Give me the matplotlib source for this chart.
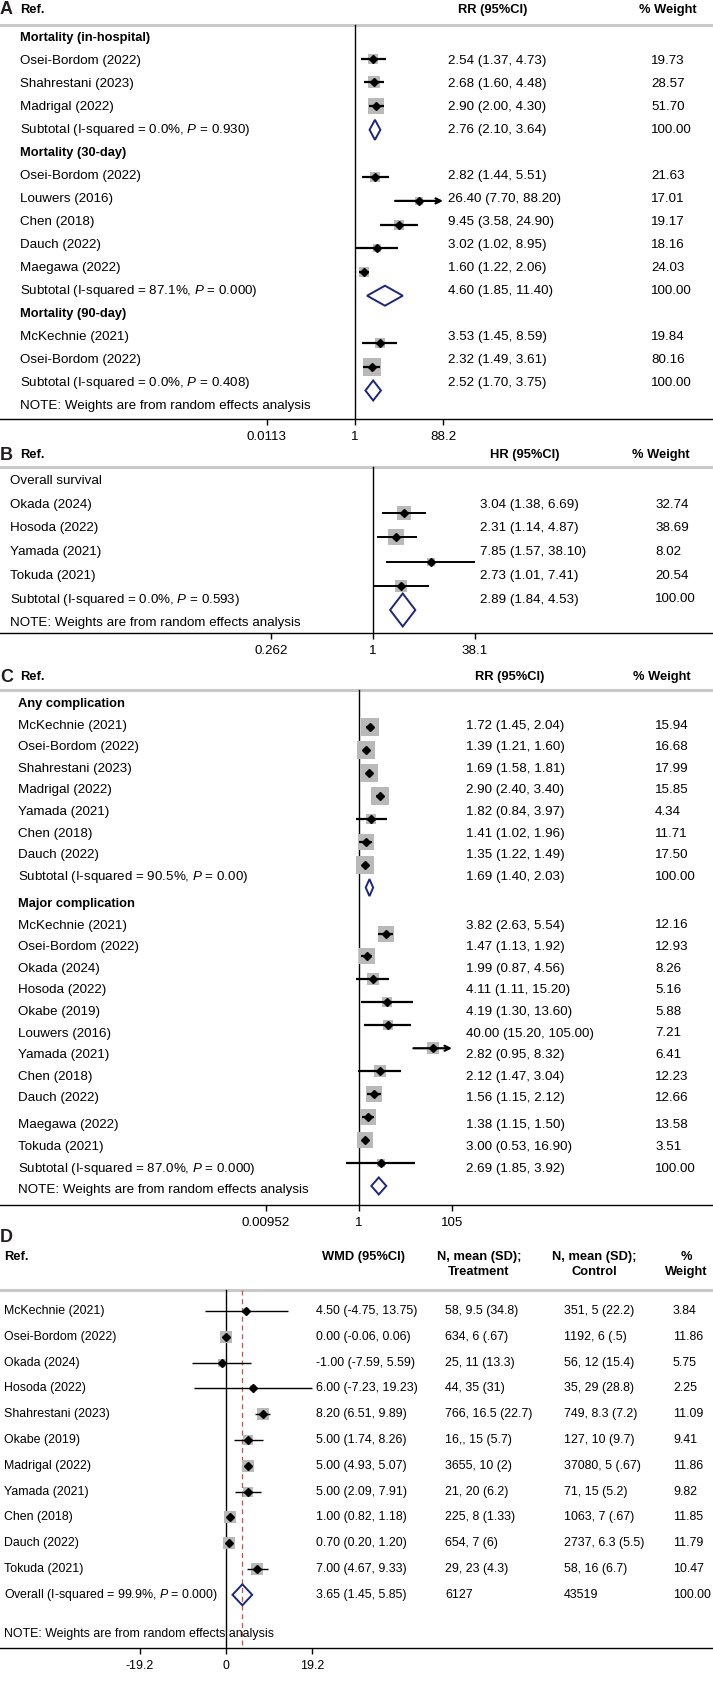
import numpy as np
import matplotlib
matplotlib.use("Agg")
import matplotlib.pyplot as plt
import matplotlib.transforms as mtransforms
from matplotlib.patches import Polygon
from matplotlib.ticker import NullLocator

plt.rcParams["font.family"] = ["Liberation Sans", "DejaVu Sans"]
plt.rcParams["mathtext.fontset"] = "custom"
plt.rcParams["mathtext.rm"] = "Liberation Sans"
plt.rcParams["mathtext.it"] = "Liberation Sans:italic"

nan = np.nan

# ── Panel A: mortality (RR) ────────────────────────────────────────────────
a_labels = ["Mortality (in-hospital)", "Osei-Bordom (2022)", "Shahrestani (2023)", "Madrigal (2022)",
            "Subtotal (I-squared = 0.0%, $P$ = 0.930)", "Mortality (30-day)", "Osei-Bordom (2022)",
            "Louwers (2016)", "Chen (2018)", "Dauch (2022)", "Maegawa (2022)",
            "Subtotal (I-squared = 87.1%, $P$ = 0.000)", "Mortality (90-day)", "McKechnie (2021)",
            "Osei-Bordom (2022)", "Subtotal (I-squared = 0.0%, $P$ = 0.408)",
            "NOTE: Weights are from random effects analysis"]
a_kinds = ["head", "study", "study", "study", "sub", "head", "study", "study", "study", "study", "study",
           "sub", "head", "study", "study", "sub", "note"]
a_est = [nan, 2.54, 2.68, 2.90, 2.76, nan, 2.82, 26.40, 9.45, 3.02, 1.60, 4.60, nan, 3.53, 2.32, 2.52, nan]
a_lo = [nan, 1.37, 1.60, 2.00, 2.10, nan, 1.44, 7.70, 3.58, 1.02, 1.22, 1.85, nan, 1.45, 1.49, 1.70, nan]
a_hi = [nan, 4.73, 4.48, 4.30, 3.64, nan, 5.51, 88.20, 24.90, 8.95, 2.06, 11.40, nan, 8.59, 3.61, 3.75, nan]
a_wt = [nan, 19.73, 28.57, 51.70, 100.00, nan, 21.63, 17.01, 19.17, 18.16, 24.03, 100.00, nan, 19.84, 80.16,
        100.00, nan]
a_ticks = [1 / 88.2, 1, 88.2]
a_tick_labels = ["0.0113", "1", "88.2"]
a_arrows = [7]

# ── Panel B: overall survival (HR) ─────────────────────────────────────────
b_labels = ["Overall survival", "Okada (2024)", "Hosoda (2022)", "Yamada (2021)", "Tokuda (2021)",
            "Subtotal (I-squared = 0.0%, $P$ = 0.593)", "NOTE: Weights are from random effects analysis"]
b_kinds = ["plain", "study", "study", "study", "study", "sub", "note"]
b_est = [nan, 3.04, 2.31, 7.85, 2.73, 2.89, nan]
b_lo = [nan, 1.38, 1.14, 1.57, 1.01, 1.84, nan]
b_hi = [nan, 6.69, 4.87, 38.10, 7.41, 4.53, nan]
b_wt = [nan, 32.74, 38.69, 8.02, 20.54, 100.00, nan]
b_ticks = [1 / 38.1, 1, 38.1]
b_tick_labels = ["0.262", "1", "38.1"]

# ── Panel C: complications (RR) ────────────────────────────────────────────
c_labels = ["Any complication", "McKechnie (2021)", "Osei-Bordom (2022)", "Shahrestani (2023)",
            "Madrigal (2022)", "Yamada (2021)", "Chen (2018)", "Dauch (2022)",
            "Subtotal (I-squared = 90.5%, $P$ = 0.00)", "Major complication", "McKechnie (2021)",
            "Osei-Bordom (2022)", "Okada (2024)", "Hosoda (2022)", "Okabe (2019)", "Louwers (2016)",
            "Yamada (2021)", "Chen (2018)", "Dauch (2022)", "Maegawa (2022)", "Tokuda (2021)",
            "Subtotal (I-squared = 87.0%, $P$ = 0.000)", "NOTE: Weights are from random effects analysis"]
c_kinds = ["head"] + ["study"] * 7 + ["sub", "head"] + ["study"] * 11 + ["sub", "note"]
c_est = [nan, 1.72, 1.39, 1.69, 2.90, 1.82, 1.41, 1.35, 1.69, nan, 3.82, 1.47, 1.99, 4.11, 4.19, 40.00,
         2.82, 2.12, 1.56, 1.38, 3.00, 2.69, nan]
c_lo = [nan, 1.45, 1.21, 1.58, 2.40, 0.84, 1.02, 1.22, 1.40, nan, 2.63, 1.13, 0.87, 1.11, 1.30, 15.20,
        0.95, 1.47, 1.15, 1.15, 0.53, 1.85, nan]
c_hi = [nan, 2.04, 1.60, 1.81, 3.40, 3.97, 1.96, 1.49, 2.03, nan, 5.54, 1.92, 4.56, 15.20, 13.60, 105.00,
        8.32, 3.04, 2.12, 1.50, 16.90, 3.92, nan]
c_wt = [nan, 15.94, 16.68, 17.99, 15.85, 4.34, 11.71, 17.50, 100.00, nan, 12.16, 12.93, 8.26, 5.16, 5.88,
        7.21, 6.41, 12.23, 12.66, 13.58, 3.51, 100.00, nan]
c_ticks = [1 / 105, 1, 105]
c_tick_labels = ["0.00952", "1", "105"]
c_arrows = [15]

# ── Panel D: WMD ───────────────────────────────────────────────────────────
d_labels = ["McKechnie (2021)", "Osei-Bordom (2022)", "Okada (2024)", "Hosoda (2022)", "Shahrestani (2023)",
            "Okabe (2019)", "Madrigal (2022)", "Yamada (2021)", "Chen (2018)", "Dauch (2022)", "Tokuda (2021)",
            "Overall (I-squared = 99.9%, $P$ = 0.000)", "NOTE: Weights are from random effects analysis"]
d_kinds = ["study"] * 11 + ["sub", "note"]
d_est = [4.50, 0.00, -1.00, 6.00, 8.20, 5.00, 5.00, 5.00, 1.00, 0.70, 7.00, 3.65, nan]
d_lo = [-4.75, -0.06, -7.59, -7.23, 6.51, 1.74, 4.93, 2.09, 0.82, 0.20, 4.67, 1.45, nan]
d_hi = [13.75, 0.06, 5.59, 19.23, 9.89, 8.26, 5.07, 7.91, 1.18, 1.20, 9.33, 5.85, nan]
d_wt = [3.84, 11.86, 5.75, 2.25, 11.09, 9.41, 11.86, 9.82, 11.85, 11.79, 10.47, 100.00, nan]
d_treat = ["58, 9.5 (34.8)", "634, 6 (.67)", "25, 11 (13.3)", "44, 35 (31)", "766, 16.5 (22.7)",
           "16,, 15 (5.7)", "3655, 10 (2)", "21, 20 (6.2)", "225, 8 (1.33)", "654, 7 (6)", "29, 23 (4.3)",
           "6127", ""]
d_ctrl = ["351, 5 (22.2)", "1192, 6 (.5)", "56, 12 (15.4)", "35, 29 (28.8)", "749, 8.3 (7.2)",
          "127, 10 (9.7)", "37080, 5 (.67)", "71, 15 (5.2)", "1063, 7 (.67)", "2737, 6.3 (5.5)",
          "58, 16 (6.7)", "43519", ""]
d_ticks = [-19.2, 0, 19.2]
d_tick_labels = ["-19.2", "0", "19.2"]

# ── layout (pixels) ────────────────────────────────────────────────────────
W, H = 713, 1684
FS = 9.6
FS_BOLD = 9.3
GRAY_SQ = "#b9b9b9"
NAVY = "#1c2580"
LINE_GRAY = "#c9c9c9"

fig = plt.figure(figsize=(W / 100, H / 100), dpi=100)
XPIX = mtransforms.Affine2D().scale(1 / W, 1 / H) + fig.transFigure


def make_axes(top_px, axis_px, fs=FS):
    ax = fig.add_axes([0, 1 - axis_px / H, 1, (axis_px - top_px) / H])
    ax.set_ylim(axis_px, top_px)
    ax.patch.set_alpha(0)
    for s in ("top", "left", "right"):
        ax.spines[s].set_visible(False)
    ax.spines["bottom"].set_linewidth(1)
    ax.yaxis.set_visible(False)
    ax.tick_params(axis="x", length=4.5, width=1, pad=4, labelsize=fs)
    tr = mtransforms.blended_transform_factory(XPIX, ax.transData)
    return ax, tr


def set_log_x(ax, null_px, hi_px, ticks, labels):
    ppd = (hi_px - null_px) / np.log10(ticks[-1])
    ax.set_xscale("log")
    ax.set_xlim(10 ** (-null_px / ppd), 10 ** ((W - null_px) / ppd))
    ax.set_xticks(ticks)
    ax.set_xticklabels(labels)
    ax.xaxis.set_minor_locator(NullLocator())


def txt(ax, tr, x, y, s, **kw):
    kw.setdefault("fontsize", FS_BOLD if kw.get("fontweight") == "bold" else FS)
    kw.setdefault("va", "center")
    ax.text(x, y, s, transform=tr, **kw)


def draw_forest(ax, tr, ty, my, labels, kinds, est, lo, hi, wt, name_x, ci_x, wt_x,
                sq_k, dia_h, lw, arrows=(), extra=(), fs=FS):
    for i, lab in enumerate(labels):
        k = kinds[i]
        bold = k == "head"
        txt(ax, tr, name_x, ty[i], lab, fontweight="bold" if bold else "normal",
            fontsize=FS_BOLD if bold else fs)
        if k in ("study", "sub"):
            txt(ax, tr, ci_x, ty[i], f"{est[i]:.2f} ({lo[i]:.2f}, {hi[i]:.2f})", fontsize=fs)
            txt(ax, tr, wt_x, ty[i], f"{wt[i]:.2f}", fontsize=fs)
            for x, col in extra:
                txt(ax, tr, x, ty[i], col[i], fontsize=fs)
        y = my[i]
        if k == "study":
            side = sq_k * np.sqrt(wt[i]) * 0.72
            ax.scatter([est[i]], [y], marker="s", s=side ** 2, color=GRAY_SQ, linewidths=0, zorder=2)
            if i in arrows:
                ax.annotate("", xy=(hi[i], y), xytext=(lo[i], y),
                            arrowprops=dict(arrowstyle="->", lw=lw, color="k", shrinkA=0, shrinkB=0,
                                            mutation_scale=9))
            else:
                ax.plot([lo[i], hi[i]], [y, y], color="k", lw=lw, solid_capstyle="butt", zorder=3)
            ax.plot([est[i]], [y], marker="D", ms=3.6, color="k", zorder=4)
        elif k == "sub":
            ax.add_patch(Polygon([(lo[i], y), (est[i], y - dia_h / 2), (hi[i], y), (est[i], y + dia_h / 2)],
                                 closed=True, fill=False, ec=NAVY, lw=1.4, zorder=4))


def header(ax, tr, y, letter, col_title, col_x, wt_x):
    txt(ax, tr, 0, y, letter, fontsize=13, fontweight="bold", color="#231f20")
    txt(ax, tr, 20, y, "Ref.", fontweight="bold")
    txt(ax, tr, col_x, y, col_title, fontweight="bold", ha="center")
    txt(ax, tr, wt_x, y, "% Weight", fontweight="bold", ha="center")


# ── A ──
ax, tr = make_axes(0, 419)
set_log_x(ax, 355, 443, a_ticks, a_tick_labels)
header(ax, tr, 10, "A", "RR (95%CI)", 493, 668)
ax.axhline(25, color=LINE_GRAY, lw=2.2, zorder=1)
ax.plot([1, 1], [25, 419], color="k", lw=1, zorder=1)
idx = np.arange(len(a_labels))
draw_forest(ax, tr, 38 + 23.0 * idx, 35 + 23.7 * idx, a_labels, a_kinds, a_est, a_lo, a_hi, a_wt,
            20, 448, 651, sq_k=2.1, dia_h=20, lw=1.6, arrows=a_arrows)

# ── B ──
ax, tr = make_axes(443, 633)
set_log_x(ax, 373, 475, b_ticks, b_tick_labels)
header(ax, tr, 455, "B", "HR (95%CI)", 525, 661)
ax.axhline(467, color=LINE_GRAY, lw=2.2, zorder=1)
ax.plot([1, 1], [467, 633], color="k", lw=1, zorder=1)
idx = np.arange(len(b_labels))
draw_forest(ax, tr, 481 + 23.7 * idx, 488.75 + 24.25 * idx, b_labels, b_kinds, b_est, b_lo, b_hi, b_wt,
            10, 480, 655, sq_k=2.6, dia_h=33, lw=1.4)

# ── C ──
ax, tr = make_axes(665, 1205)
set_log_x(ax, 359, 452, c_ticks, c_tick_labels)
header(ax, tr, 677, "C", "RR (95%CI)", 510, 662)
ax.axhline(690, color=LINE_GRAY, lw=2.2, zorder=1)
ax.plot([1, 1], [690, 1205], color="k", lw=1, zorder=1)
idx = np.arange(len(c_labels))
c_ty = 704 + 21.6 * idx + 5.5 * (idx >= 9) + 5.5 * (idx >= 19)
draw_forest(ax, tr, c_ty, 704 + 22.95 * idx, c_labels, c_kinds, c_est, c_lo, c_hi, c_wt,
            18, 466, 655, sq_k=4.4, dia_h=17, lw=1.6, arrows=c_arrows)

# ── D (slightly smaller body text) ──
FS_D = 8.9
ax, tr = make_axes(1228, 1648, fs=FS_D)
ppu = (312 - 226) / d_ticks[-1]
ax.set_xlim(-226 / ppu, (W - 226) / ppu)
ax.set_xticks(d_ticks)
ax.set_xticklabels(d_tick_labels)
txt(ax, tr, 0, 1238, "D", fontsize=13, fontweight="bold", color="#231f20")
txt(ax, tr, 4, 1257, "Ref.", fontweight="bold")
txt(ax, tr, 363, 1257, "WMD (95%CI)", fontweight="bold", ha="center")
for cx, l2 in [(479, "Treatment"), (594, "Control")]:
    txt(ax, tr, cx, 1257, "N, mean (SD);", fontweight="bold", ha="center")
    txt(ax, tr, cx, 1272, l2, fontweight="bold", ha="center")
txt(ax, tr, 686, 1257, "%", fontweight="bold", ha="center")
txt(ax, tr, 686, 1272, "Weight", fontweight="bold", ha="center")
ax.axhline(1290, color=LINE_GRAY, lw=2.2, zorder=1)
ax.plot([0, 0], [1290, 1648], color="k", lw=1, zorder=1)
ax.plot([d_est[11], d_est[11]], [1290, 1648], color="#c8524f", lw=0.9, ls=(0, (4, 3)), zorder=1)
idx = np.arange(len(d_labels))
d_ty = 1311 + 25.8 * idx + 13 * (idx == 12)
draw_forest(ax, tr, d_ty, d_ty, d_labels, d_kinds, d_est, d_lo, d_hi, d_wt,
            4, 316, 673, sq_k=3.5, dia_h=21, lw=1.0, extra=[(445, d_treat), (564, d_ctrl)], fs=FS_D)

fig.savefig("out.png", dpi=100)
